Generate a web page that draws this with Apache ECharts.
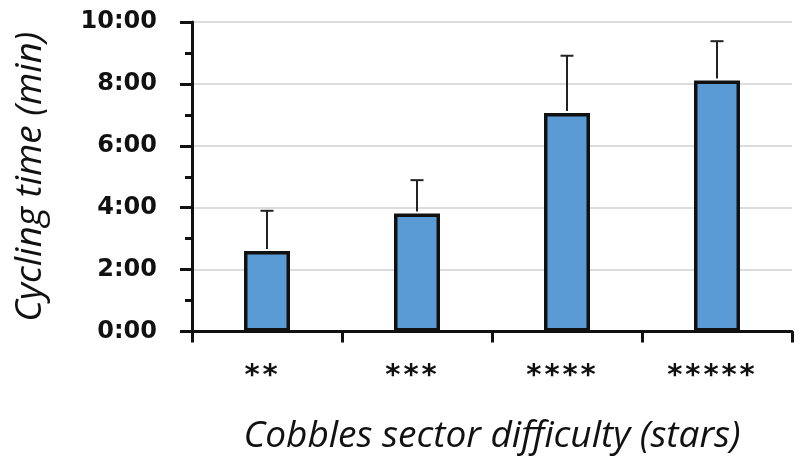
<!DOCTYPE html>
<html>
<head>
<meta charset="utf-8">
<script src="https://cdn.jsdelivr.net/npm/echarts@6/dist/echarts.min.js"></script>
<style>
  html, body { margin: 0; padding: 0; background: #fff; }
  #chart { width: 808px; height: 462px; }
</style>
</head>
<body>
<div id="chart"></div>
<script>
// Difficulty ratings of the cobbled sectors (stars)
const categories = ['**', '***', '****', '*****'];
// Mean cycling time per sector, in minutes
const meanTime = [2.6, 3.81, 7.06, 8.11];
// Standard deviation (upper error bar), in minutes
const sdTime = [1.3, 1.08, 1.85, 1.27];
// Y-axis range and step (minutes)
const yMin = 0, yMax = 10, yStep = 2;

const chart = echarts.init(document.getElementById('chart'), null, { renderer: 'canvas' });

const errorData = categories.map((c, i) => [i, meanTime[i], meanTime[i] + sdTime[i]]);

chart.setOption({
  animation: false,
  backgroundColor: '#ffffff',
  grid: { left: 192, right: 16, top: 22, bottom: 130.5, containLabel: false },
  xAxis: {
    type: 'category',
    data: categories,
    boundaryGap: true,
    name: 'Cobbles sector difficulty (stars)',
    nameLocation: 'middle',
    nameGap: 86,
    nameTextStyle: { fontFamily: 'Open Sans', fontStyle: 'italic', fontSize: 37, color: '#111' },
    axisLine: { lineStyle: { color: '#111', width: 3 } },
    axisTick: { show: true, alignWithLabel: false, length: 11, lineStyle: { color: '#111', width: 3 } },
    axisLabel: {
      color: '#111',
      fontFamily: 'DejaVu Sans',
      fontWeight: 'bold',
      fontSize: 29,
      margin: 30,
      padding: [0, 12, 0, 0],
      formatter: v => v.split('').join('\u200A')
    }
  },
  yAxis: {
    type: 'value',
    min: yMin,
    max: yMax,
    interval: yStep,
    name: 'Cycling time (min)',
    nameLocation: 'middle',
    nameGap: 143,
    nameTextStyle: { fontFamily: 'Open Sans', fontStyle: 'italic', fontSize: 37, color: '#111' },
    axisLine: { show: true, lineStyle: { color: '#111', width: 3 } },
    axisTick: { show: true, length: 12, lineStyle: { color: '#111', width: 3 } },
    minorTick: { show: true, splitNumber: 2, length: 7, lineStyle: { color: '#111', width: 3 } },
    splitLine: { show: true, lineStyle: { color: '#dcdcdc', width: 2 } },
    axisLabel: {
      color: '#111',
      fontFamily: 'DejaVu Sans',
      fontWeight: 'bold',
      fontSize: 24,
      margin: 35,
      formatter: v => v + ':00'
    }
  },
  series: [
    {
      type: 'bar',
      data: meanTime,
      barWidth: 46,
      itemStyle: { color: '#5b9bd5', borderColor: '#111', borderWidth: 3.5 },
      z: 2
    },
    {
      // upper error bars with a cap
      type: 'custom',
      data: errorData,
      z: 3,
      renderItem: (params, api) => {
        const x = api.value(0);
        const base = api.coord([x, api.value(1)]);
        const top = api.coord([x, api.value(2)]);
        const half = 6.5;
        return {
          type: 'group',
          children: [
            { type: 'line', shape: { x1: base[0], y1: base[1] - 2, x2: top[0], y2: top[1] },
              style: { stroke: '#222', lineWidth: 2 } },
            { type: 'line', shape: { x1: top[0] - half, y1: top[1], x2: top[0] + half, y2: top[1] },
              style: { stroke: '#222', lineWidth: 2 } }
          ]
        };
      }
    }
  ]
});
</script>
</body>
</html>
